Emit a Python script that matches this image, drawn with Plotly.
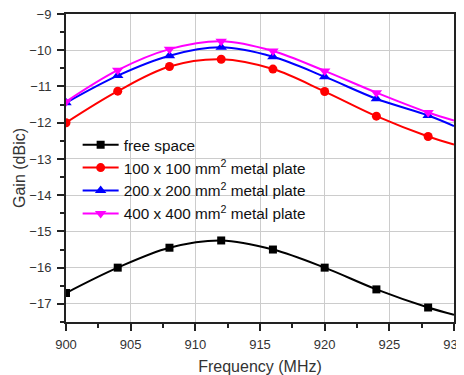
import plotly.graph_objects as go

freq = [900, 904, 908, 912, 916, 920, 924, 928, 930]
free_space = [-16.7, -16.0, -15.45, -15.25, -15.5, -16.0, -16.6, -17.1, -17.3]
plate_100 = [-12.0, -11.13, -10.45, -10.25, -10.52, -11.14, -11.82, -12.38, -12.6]
plate_200 = [-11.45, -10.7, -10.15, -9.92, -10.18, -10.73, -11.34, -11.8, -12.09]
plate_400 = [-11.42, -10.55, -9.97, -9.75, -10.02, -10.57, -11.17, -11.72, -11.94]

names = ["free space", "100 x 100 mm<sup>2</sup> metal plate",
         "200 x 200 mm<sup>2</sup> metal plate", "400 x 400 mm<sup>2</sup> metal plate"]
series = [free_space, plate_100, plate_200, plate_400]
colors = ["#000000", "#ff0000", "#0000ff", "#ff00ff"]
symbols = ["square", "circle", "triangle-up", "triangle-down"]
msize = [8, 9, 10, 10]

fig = go.Figure()
for n, s, c, sym, ms in zip(names, series, colors, symbols, msize):
    fig.add_trace(go.Scatter(x=freq, y=s, mode="lines", showlegend=False,
                             line=dict(color=c, width=2, shape="spline"), hoverinfo="skip"))
    fig.add_trace(go.Scatter(x=freq[:-1], y=s[:-1], mode="markers", showlegend=False,
                             marker=dict(symbol=sym, size=ms, color=c)))
    fig.add_trace(go.Scatter(x=[None], y=[None], name=n, mode="lines+markers",
                             line=dict(color=c, width=2),
                             marker=dict(symbol=sym, size=ms, color=c)))

axis_common = dict(showline=True, linecolor="#222", linewidth=2, mirror=True,
                   showgrid=True, gridcolor="#cccccc", gridwidth=1,
                   ticks="outside", ticklen=7, tickwidth=1.5, tickcolor="#222",
                   tickfont=dict(family="Liberation Sans, Arial", size=13, color="#333"),
                   zeroline=False, automargin=False, ticklabeloverflow="allow")
fig.update_xaxes(range=[900, 930], dtick=5, ticklabelstandoff=2,
                 title=dict(text="Frequency (MHz)", standoff=10,
                 font=dict(family="Liberation Sans, Arial", size=16, color="#333")),
                 minor=dict(dtick=2.5, ticks="outside", ticklen=4, tickcolor="#222", showgrid=False),
                 **axis_common)
fig.update_yaxes(range=[-17.5, -9], dtick=1, ticklabelstandoff=3,
                 title=dict(text="Gain (dBic)", standoff=0,
                 font=dict(family="Liberation Sans, Arial", size=16, color="#333")),
                 minor=dict(dtick=0.5, ticks="outside", ticklen=4, tickcolor="#222", showgrid=False),
                 **axis_common)
# the page body adds an 8 px offset, so the figure is 8 px smaller and shifted
fig.update_layout(width=456, height=367, margin=dict(l=58, r=10, t=6, b=53),
                  paper_bgcolor="white", plot_bgcolor="white",
                  font=dict(family="Liberation Sans, Arial", color="#222"),
                  legend=dict(x=0.03, y=0.629, xanchor="left", yanchor="top",
                              bgcolor="rgba(255,255,255,0)", font=dict(size=15.3, color="#111"),
                              itemwidth=36))
fig.write_html("out.html")
